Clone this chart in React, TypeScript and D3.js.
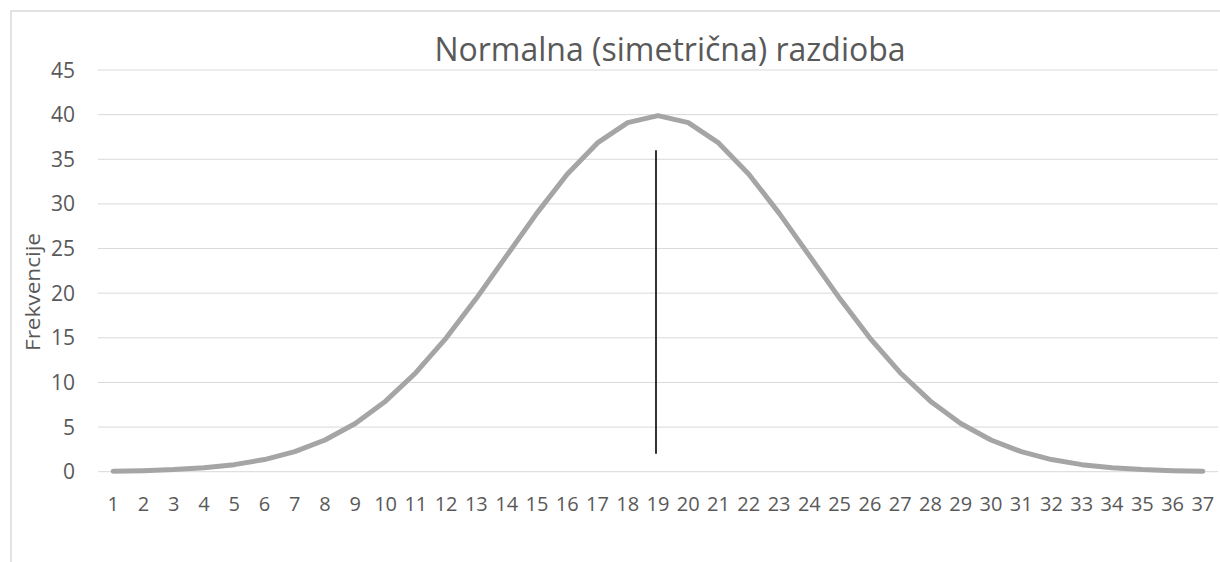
import React from "react";
import * as d3 from "d3";

const categories: string[] = [
  "1","2","3","4","5","6","7","8","9","10","11","12","13","14","15","16","17","18","19",
  "20","21","22","23","24","25","26","27","28","29","30","31","32","33","34","35","36","37",
];
const frequencies: number[] = [
  0.06, 0.12, 0.24, 0.44, 0.79, 1.36, 2.24, 3.55, 5.4, 7.9, 11.09, 14.97, 19.42, 24.2, 28.97, 33.32, 36.83, 39.1,
  39.89,
  39.1, 36.83, 33.32, 28.97, 24.2, 19.42, 14.97, 11.09, 7.9, 5.4, 3.55, 2.24, 1.36, 0.79, 0.44, 0.24, 0.12, 0.06,
];
const yTicks: number[] = [0, 5, 10, 15, 20, 25, 30, 35, 40, 45];
const markerCategory = "19";
const markerRange: number[] = [2, 36];
const title = "Normalna (simetrična) razdioba";
const yTitle = "Frekvencije";

const W = 1220;
const H = 562;
const FONT = "'Open Sans', 'DejaVu Sans', sans-serif";

export default function App() {
  const x = d3.scaleBand<string>().domain(categories).range([98, 1218]).padding(0);
  const y = d3.scaleLinear().domain([0, 45]).range([471.7, 70]);
  const cx = (c: string) => (x(c) as number) + x.bandwidth() / 2;
  const line = d3
    .line<number>()
    .x((_, i) => cx(categories[i]))
    .y((d) => y(d));

  return (
    <svg
      width={W}
      height={H}
      style={{ position: "absolute", left: 0, top: 0, background: "#fff" }}
      fontFamily={FONT}
    >
      <rect x={11} y={11} width={1400} height={800} fill="#fff" stroke="#D9D9D9" strokeWidth={1.5} />
      <text x={670} y={61} textAnchor="middle" fontSize={32} fill="#595959">
        {title}
      </text>
      {yTicks.map((t) => (
        <g key={t}>
          <line x1={98} x2={1218} y1={y(t)} y2={y(t)} stroke="#D9D9D9" strokeWidth={1} />
          <text x={75} y={y(t)} dy="0.36em" textAnchor="end" fontSize={21} fill="#595959">
            {t}
          </text>
        </g>
      ))}
      {categories.map((c) => (
        <text key={c} x={cx(c)} y={511} textAnchor="middle" fontSize={20} fill="#595959">
          {c}
        </text>
      ))}
      <text
        transform={`translate(40,292) rotate(-90)`}
        textAnchor="middle"
        fontSize={20}
        fill="#595959"
        textLength={118}
        lengthAdjust="spacingAndGlyphs"
      >
        {yTitle}
      </text>
      <path
        d={line(frequencies) || ""}
        fill="none"
        stroke="#A5A5A5"
        strokeWidth={5}
        strokeLinejoin="round"
        strokeLinecap="round"
      />
      <line
        x1={cx(markerCategory) - 2}
        x2={cx(markerCategory) - 2}
        y1={y(markerRange[0])}
        y2={y(markerRange[1])}
        stroke="#000"
        strokeWidth={1.6}
      />
    </svg>
  );
}
